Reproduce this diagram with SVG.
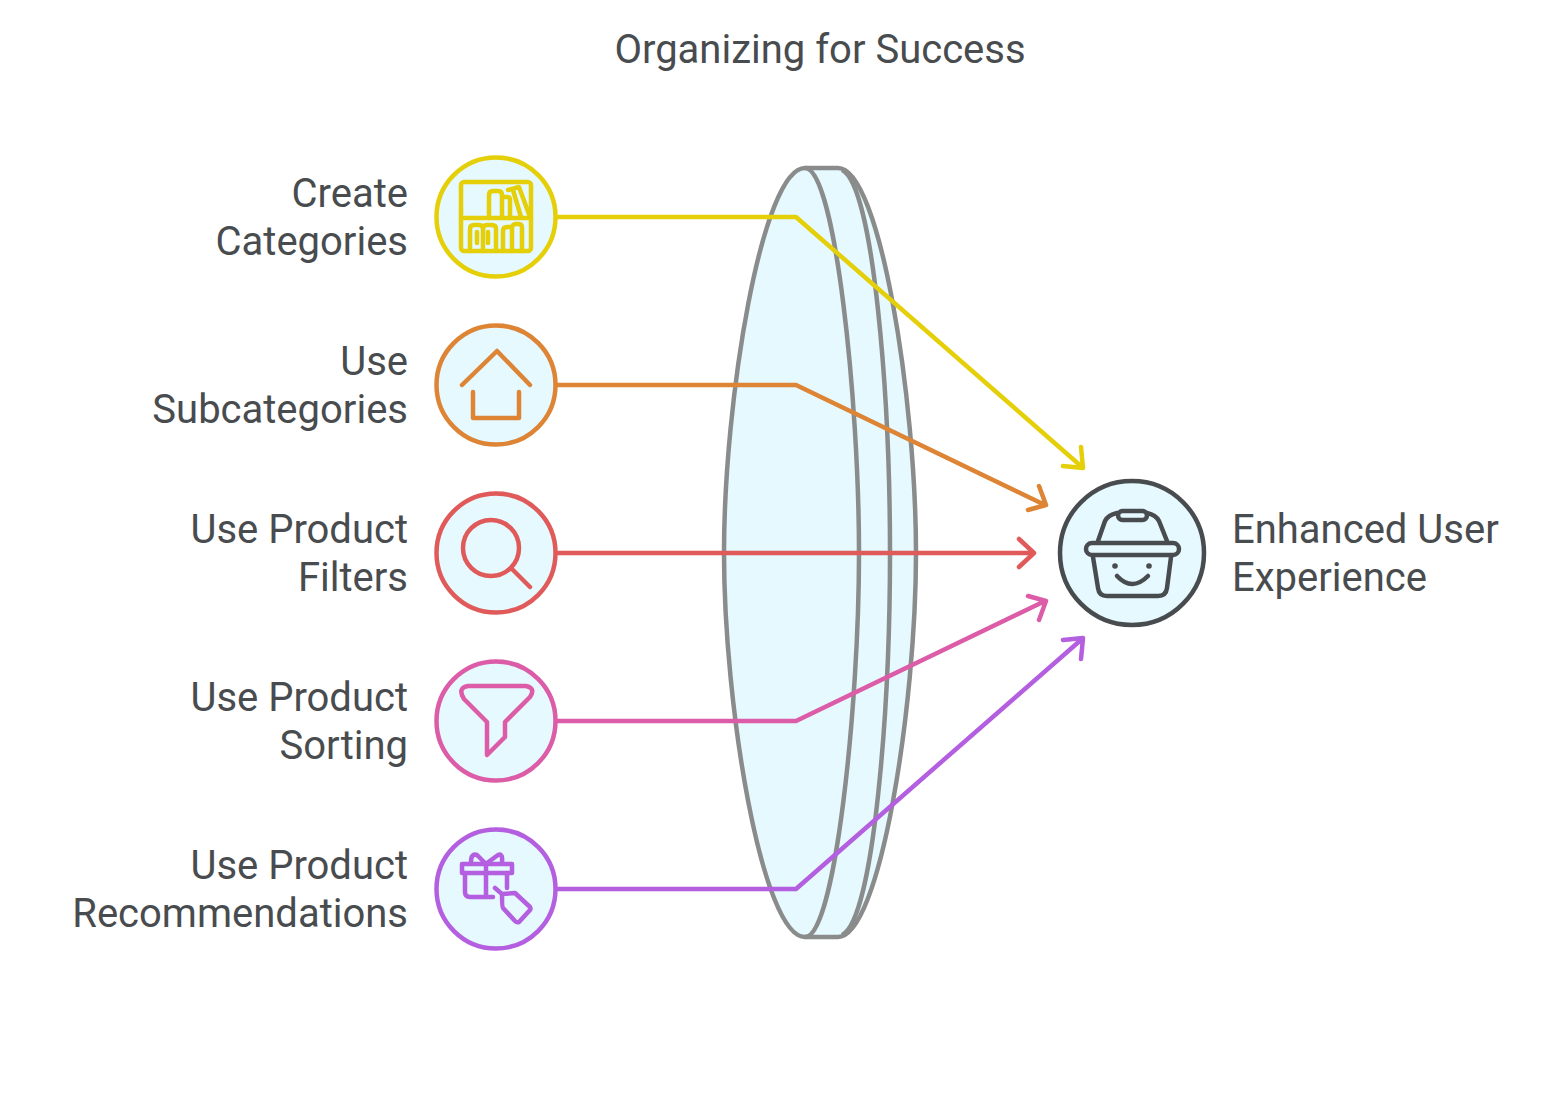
<svg xmlns="http://www.w3.org/2000/svg" width="1564" height="1120" viewBox="0 0 1564 1120">
<style>
text{font-family:Roboto,"Liberation Sans",sans-serif;font-size:40px;fill:#484c4f}
.r{text-anchor:end}
.c{fill:#e5f9ff;stroke-width:4.5}
.i{fill:none;stroke-width:4.5;stroke-linecap:round;stroke-linejoin:round}
.l{fill:none;stroke:#8a8c8c;stroke-width:4.5;stroke-linejoin:round}
.k{fill:none;stroke-width:4.5;stroke-linecap:round;stroke-linejoin:round}
.y{stroke:#e5cf08}.o{stroke:#dd8435}.e{stroke:#e05a5a}.p{stroke:#dc5ca8}.u{stroke:#b45ee0}.d{stroke:#484c4f}
</style>
<rect width="1564" height="1120" fill="#fff"/>
<text id="title" x="820" y="63" text-anchor="middle">Organizing for Success</text>
<g id="lens">
<path class="l" style="fill:#e5f9ff" d="M805,168H838C880,168 916,400 916,553C916,706 880,937 838,937H805C762,937 724,706 724,553C724,400 762,168 805,168Z"/>
<path class="l" d="M805,168C835,168 859,400 859,553C859,706 835,937 805,937"/>
<path class="l" d="M842,170C874,185 890,400 890,553C890,706 874,920 842,935"/>
</g>
<g id="connectors">
<path class="k y" d="M556,217H796L1082,467M1063,466L1083,468L1081,447"/>
<path class="k o" d="M556,385H796L1045,505M1028,510L1046,505L1039,486"/>
<path class="k e" d="M556,553H1033M1019,539L1034,553L1019,567"/>
<path class="k p" d="M556,721H796L1045,601M1028,596L1046,601L1039,620"/>
<path class="k u" d="M556,889H796L1082,639M1063,640L1083,638L1081,659"/>
</g>
<g id="node-categories">
<circle class="c y" cx="496" cy="217" r="59.5"/>
<g class="i y">
<rect x="461" y="182" width="70" height="69" rx="3"/>
<path d="M461,218H531"/>
<path d="M489,218V195Q489,191 493,191H498Q502,191 502,195V218M502,197H507Q510,197 510,200V218"/>
<path d="M508,190L519,187L530,217M513,190L521,217"/>
<path d="M470,251V229Q470,225 474,225H479Q483,225 483,229V251M483,229Q483,225 487,225H492Q496,225 496,229V251"/>
<path d="M503,251V231Q503,227 507,227H512V251M512,227Q513,224 516,224H519Q522,224 522,228V251"/>
<path d="M477,232V243M488,232V243"/>
</g>
<text class="r" x="408" y="207">Create</text>
<text class="r" x="408" y="255">Categories</text>
</g>
<g id="node-subcategories">
<circle class="c o" cx="496" cy="385" r="59.5"/>
<path class="i o" d="M462,385L497,351L530,385M473,392V418H519V392"/>
<text class="r" x="408" y="375">Use</text>
<text class="r" x="408" y="423">Subcategories</text>
</g>
<g id="node-filters">
<circle class="c e" cx="496" cy="553" r="59.5"/>
<circle class="i e" cx="491" cy="548" r="28"/>
<path class="i e" d="M511,568L530,587"/>
<text class="r" x="408" y="543">Use Product</text>
<text class="r" x="408" y="591">Filters</text>
</g>
<g id="node-sorting">
<circle class="c p" cx="496" cy="721" r="59.5"/>
<path class="i p" d="M468,686H526Q536,688 530,697L505,722V737L487,755V722L464,699Q457,688 468,686Z"/>
<text class="r" x="408" y="711">Use Product</text>
<text class="r" x="408" y="759">Sorting</text>
</g>
<g id="node-recommendations">
<circle class="c u" cx="496" cy="889" r="59.5"/>
<g class="i u">
<rect x="462" y="864" width="50" height="9"/>
<path d="M465,873V892Q465,897 470,897H493M507,873V888M486,864V897"/>
<path d="M485,863L477,855Q471,853 471,862M487,863L498,855Q503,853 502,862"/>
<path d="M495,888L502,894L515,893L530,907Q531,909 530,910L519,922Q517,923 515,921L503,908Q502,907 502,894"/>
</g>
<text class="r" x="408" y="879">Use Product</text>
<text class="r" x="408" y="927">Recommendations</text>
</g>
<g id="node-experience">
<circle class="c d" cx="1132" cy="553" r="72"/>
<g class="i d">
<rect x="1086" y="543" width="93" height="12" rx="6"/>
<rect x="1118" y="511" width="29" height="9" rx="4.5"/>
<path d="M1098,541L1105,521Q1108,515 1117,513M1147,513Q1156,515 1159,521L1167,541"/>
<path d="M1093,557L1098,588Q1099,596 1107,596H1158Q1166,596 1167,588L1171,557"/>
<path d="M1117,576Q1132,592 1148,576"/>
</g>
<circle cx="1115" cy="566" r="2.8" fill="#484c4f"/>
<circle cx="1149" cy="566" r="2.8" fill="#484c4f"/>
<text x="1232" y="543">Enhanced User</text>
<text x="1232" y="591">Experience</text>
</g>
</svg>
